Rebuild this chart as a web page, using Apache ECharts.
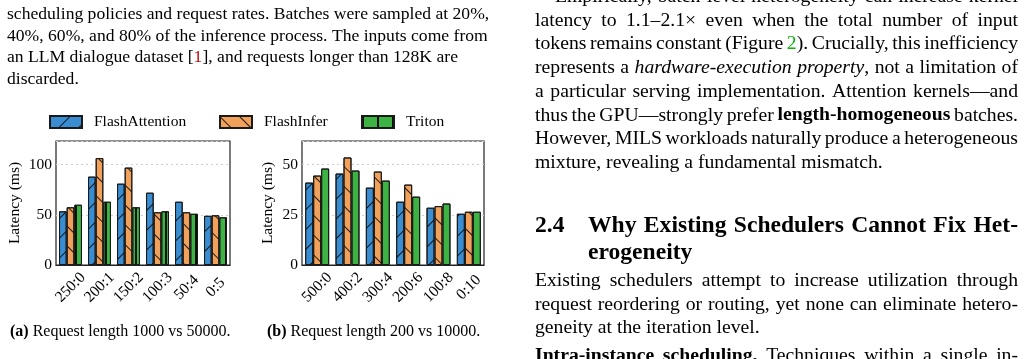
<!DOCTYPE html>
<html>
<head>
<meta charset="utf-8">
<script src="https://cdn.jsdelivr.net/npm/echarts@6/dist/echarts.min.js"></script>
<style>
  html, body { margin: 0; padding: 0; background: #fff; }
  #main { width: 1024px; height: 359px; }
</style>
</head>
<body>
<div id="main"></div>
<script>
// 数据：两组请求长度混合比例下三个 attention kernel 的延迟 (ms)
const kernels = ['FlashAttention', 'FlashInfer', 'Triton']
const mixA = ['250:0', '200:1', '150:2', '100:3', '50:4', '0:5']
const mixB = ['500:0', '400:2', '300:4', '200:6', '100:8', '0:10']
const flashAttnA = [53.5, 88, 81, 72, 63, 49]
const flashInferA = [57.5, 106.5, 97, 52.5, 52.5, 49.5]
const tritonA = [60, 63, 57.5, 53.5, 51, 47.5]
const flashAttnB = [41, 45.5, 38.5, 31.5, 28.5, 25.5]
const flashInferB = [44.5, 53.5, 46.5, 40, 29.3, 26.5]
const tritonB = [48, 47, 42, 34, 30.6, 26.5]
const ticksA = [0, 50, 100]
const ticksB = [0, 25, 50]

// 页面上的正文
const leftText = [
  'scheduling policies and request rates. Batches were sampled at 20%,',
  '40%, 60%, and 80% of the inference process. The inputs come from',
  'an LLM dialogue dataset [{r|1}], and requests longer than 128K are',
  'discarded.'
]
const rightText = [
  'Empirically, batch-level heterogeneity can increase kernel',
  'latency to 1.1–2.1× even when the total number of input',
  'tokens remains constant (Figure {g|2}). Crucially, this inefficiency',
  'represents a {i|hardware-execution} {i|property}, not a limitation of',
  'a particular serving implementation. Attention kernels—and',
  'thus the GPU—strongly prefer {b|length-homogeneous} batches.',
  'However, MILS workloads naturally produce a heterogeneous',
  'mixture, revealing a fundamental mismatch.'
]
const headNum = '2.4'
const headText = ['Why Existing Schedulers Cannot Fix Het-', 'erogeneity']
const paraText = [
  'Existing schedulers attempt to increase utilization through',
  'request reordering or routing, yet none can eliminate hetero-',
  'geneity at the iteration level.'
]
const runInText = '{b|Intra-instance} {b|scheduling.} Techniques within a single in-'
const subCaps = ['{b|(a)} Request length 1000 vs 50000.', '{b|(b)} Request length 200 vs 10000.']

const SERIF = 'Liberation Serif, Times New Roman, serif'
const colors = ['#3a8dd0', '#f2a15a', '#3db344']

// 排版：逐词放置，两端对齐
const ctx = document.createElement('canvas').getContext('2d')
const runStyles = { b: { b: 1 }, i: { i: 1 }, g: { c: '#10b010' }, r: { c: '#c01010' } }
function fontStr(st, size) {
  return (st.i ? 'italic ' : '') + (st.b ? 'bold ' : '') + size + 'px ' + SERIF
}
function parseRuns(word, base) {
  const out = []
  const re = /\{(\w+)\|([^}]*)\}/g
  let last = 0, m
  while ((m = re.exec(word))) {
    if (m.index > last) out.push({ t: word.slice(last, m.index), st: base })
    out.push({ t: m[2], st: Object.assign({}, base, runStyles[m[1]]) })
    last = re.lastIndex
  }
  if (last < word.length) out.push({ t: word.slice(last), st: base })
  return out
}
function placeLine(line, x0, base, width, size, st, justify) {
  const items = line.split(' ').map(w => {
    const runs = parseRuns(w, st)
    let sum = 0
    runs.forEach(r => { ctx.font = fontStr(r.st, size); r.w = ctx.measureText(r.t).width; sum += r.w })
    return { runs, w: sum }
  })
  ctx.font = fontStr(st, size)
  const sp = ctx.measureText(' ').width
  const total = items.reduce((a, b) => a + b.w, 0)
  const gap = justify && items.length > 1 ? (width - total) / (items.length - 1) : sp
  const els = []
  let x = x0
  items.forEach(it => {
    it.runs.forEach(r => {
      els.push({
        type: 'text', silent: true, x: x, y: base - 0.34 * size,
        style: { text: r.t, font: fontStr(r.st, size), fill: r.st.c || '#000', align: 'left', verticalAlign: 'middle' }
      })
      x += r.w
    })
    x += gap
  })
  return els
}

let texts = []
leftText.forEach((l, i) => { texts = texts.concat(placeLine(l, 7, 20.3 + 21.7 * i, 480, 17.6, {}, false)) })
rightText.forEach((l, i) => {
  const x0 = i === 0 ? 555 : 535
  texts = texts.concat(placeLine(l, x0, 3.6 + 23.7 * i, 1018 - x0, 19.7, {}, i < rightText.length - 1))
})
texts = texts.concat(placeLine(headNum, 535, 233.5, 40, 23.6, { b: 1 }, false))
headText.forEach((l, i) => { texts = texts.concat(placeLine(l, 588, 233.5 + 27.3 * i, 430, 23.6, { b: 1 }, i === 0)) })
paraText.forEach((l, i) => { texts = texts.concat(placeLine(l, 535, 287.5 + 23.7 * i, 483, 19.7, {}, i !== 2)) })
texts = texts.concat(placeLine(runInText, 535, 362.5, 483, 19.7, {}, true))
texts = texts.concat(placeLine(subCaps[0], 10, 337, 230, 16, {}, false))
texts = texts.concat(placeLine(subCaps[1], 267, 337, 230, 16, {}, false))

// 阴影线纹理 (matplotlib hatch 的近似)
const hatches = [
  { symbol: 'rect', symbolSize: 1, dashArrayX: [1, 0], dashArrayY: [1, 13], rotation: -Math.PI / 4, color: 'rgba(0,0,0,0.85)' },
  { symbol: 'rect', symbolSize: 1, dashArrayX: [1, 0], dashArrayY: [1, 13], rotation: Math.PI / 4, color: 'rgba(0,0,0,0.85)' },
  { symbol: 'rect', symbolSize: 1, dashArrayX: [2, 13], dashArrayY: [300, 1], color: 'rgba(0,0,0,0.9)' }
]

function makeX(gridIndex, cats) {
  return {
    type: 'category', gridIndex, data: cats,
    axisLine: { show: true, lineStyle: { color: '#222', width: 1.2 } },
    axisTick: { show: false },
    axisLabel: { interval: 0, rotate: 45, align: 'center', verticalAlign: 'middle', margin: 22.5, fontSize: 15.5, fontFamily: SERIF, color: '#000' }
  }
}
function makeY(gridIndex, max, ticks, gap) {
  const step = ticks[1] - ticks[0]
  return {
    type: 'value', gridIndex, min: ticks[0], max, interval: step,
    name: 'Latency (ms)', nameLocation: 'middle', nameGap: gap,
    nameTextStyle: { fontSize: 15.5, fontFamily: SERIF, color: '#000' },
    axisLine: { show: false }, axisTick: { show: false },
    axisLabel: { margin: 4, fontSize: 15.5, fontFamily: SERIF, color: '#000', formatter: v => ticks.includes(v) ? v : '' },
    splitLine: { show: true, lineStyle: { type: [2, 3], color: '#cfcfcf', width: 1 } }
  }
}
function makeBars(vals, i, gridIndex) {
  return {
    type: 'bar', name: kernels[i], data: vals, xAxisIndex: gridIndex, yAxisIndex: gridIndex,
    barGap: '0%', barCategoryGap: '21%',
    itemStyle: { color: colors[i], borderColor: '#1a1a1a', borderWidth: 1, decal: hatches[i] }
  }
}

const chart = echarts.init(document.getElementById('main'))
const option = {
  animation: false,
  backgroundColor: '#fff',
  textStyle: { fontFamily: SERIF, color: '#000' },
  grid: [
    { left: 56, top: 141, width: 174, height: 124, show: true, borderColor: '#222', borderWidth: 1.2, backgroundColor: 'transparent' },
    { left: 302, top: 141, width: 182, height: 124, show: true, borderColor: '#222', borderWidth: 1.2, backgroundColor: 'transparent' }
  ],
  xAxis: [makeX(0, mixA), makeX(1, mixB)],
  yAxis: [makeY(0, 123.5, ticksA, 33), makeY(1, 61.7, ticksB, 26)],
  legend: kernels.map((k, i) => ({
    data: [k], left: [49, 219, 361][i], top: 114, padding: 0,
    itemWidth: 32, itemHeight: 12, icon: 'rect', selectedMode: false,
    textStyle: { fontSize: 15.5, fontFamily: SERIF, color: '#000', padding: [0, 0, 0, 7] }
  })),
  series: [
    makeBars(flashAttnA, 0, 0), makeBars(flashInferA, 1, 0), makeBars(tritonA, 2, 0),
    makeBars(flashAttnB, 0, 1), makeBars(flashInferB, 1, 1), makeBars(tritonB, 2, 1)
  ],
  graphic: { elements: texts }
}
chart.setOption(option)
</script>
</body>
</html>
